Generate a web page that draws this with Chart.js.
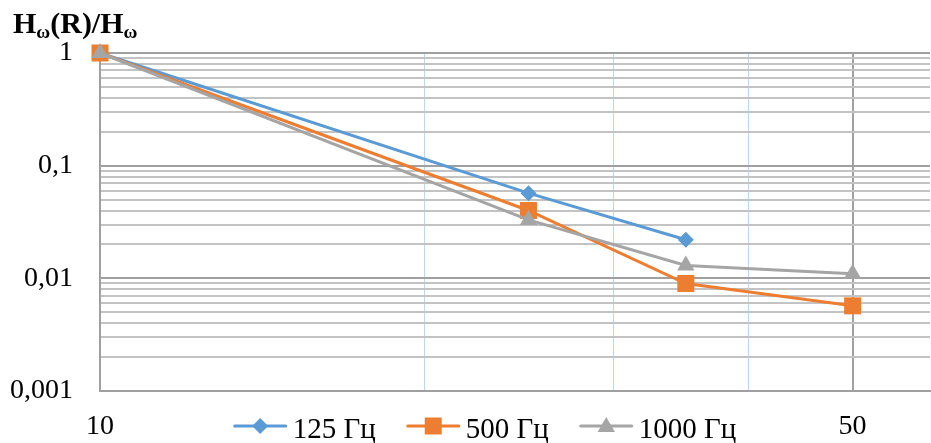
<!DOCTYPE html>
<html><head><meta charset="utf-8">
<script src="https://cdn.jsdelivr.net/npm/chart.js@4"></script>
<style>html,body{margin:0;padding:0;background:#fff;overflow:hidden}canvas{display:block}</style>
</head><body><canvas id="c" width="931" height="443"></canvas>
<script>
// ---- data ----
const distances = [10, 25, 35, 50];
const series125 = [1, 0.057, 0.022];
const series500 = [1, 0.040, 0.0090, 0.0057];
const series1000 = [1, 0.033, 0.013, 0.011];
const seriesNames = ['125 Гц', '500 Гц', '1000 Гц'];
const seriesColors = ['#5b9bd5', '#ed7d31', '#a5a5a5'];
const seriesMarkers = ['rectRot', 'rect', 'triangle'];
const xTickValues = [10, 20, 30, 40, 50];
const xTickLabels = ['10', '', '', '', '50'];
const yDecades = [-3, -2, -1, 0];
const yDecadeLabels = ['0,001', '0,01', '0,1', '1'];
const titleParts = [['H', false], ['ω', true], ['(R)/H', false], ['ω', true]];

// ---- build ticks ----
const yTicks = [];
yDecades.forEach((d, i) => {
  const maxM = d === 0 ? 1 : 9;
  for (let m = 1; m <= maxM; m++) {
    yTicks.push({ value: parseFloat((m * Math.pow(10, d)).toPrecision(6)), label: m === 1 ? yDecadeLabels[i] : '', major: m === 1 });
  }
});
const findY = v => yTicks.find(t => Math.abs(t.value - v) / v < 1e-6);
const yLabelFor = v => { const t = findY(v); return t ? t.label : ''; };
const yMajorFor = v => { const t = findY(v); return t ? t.major : false; };
const xLabelFor = v => { const i = xTickValues.findIndex(t => Math.abs(t - v) < 1e-6); return i >= 0 ? xTickLabels[i] : ''; };
const isX = (v, t) => Math.abs(v - t) < 1e-6;

const toPoints = arr => arr.map((y, i) => ({ x: distances[i], y }));
const allSeries = [series125, series500, series1000];
const radii = [8, 12, 10];

const datasets = allSeries.map((s, i) => ({
  label: seriesNames[i],
  data: toPoints(s),
  borderColor: seriesColors[i],
  backgroundColor: seriesColors[i],
  borderWidth: 3,
  pointStyle: seriesMarkers[i],
  pointRadius: radii[i],
  pointHoverRadius: radii[i],
  pointBorderWidth: 0,
  order: 2 - i,
  clip: false,
  tension: 0
}));

const serif = '"Liberation Serif", "Times New Roman", serif';
const PLOT_RIGHT = 930;

function drawMarker(ctx, style, x, y, r, color) {
  ctx.save();
  ctx.fillStyle = color;
  ctx.beginPath();
  if (style === 'rectRot') {
    ctx.moveTo(x - r, y); ctx.lineTo(x, y - r); ctx.lineTo(x + r, y); ctx.lineTo(x, y + r);
  } else if (style === 'rect') {
    const s = r * Math.SQRT1_2;
    ctx.rect(x - s, y - s, 2 * s, 2 * s);
  } else {
    let a = 0;
    ctx.moveTo(x + Math.sin(a) * r, y - Math.cos(a) * r);
    a += 2 * Math.PI / 3; ctx.lineTo(x + Math.sin(a) * r, y - Math.cos(a) * r);
    a += 2 * Math.PI / 3; ctx.lineTo(x + Math.sin(a) * r, y - Math.cos(a) * r);
  }
  ctx.closePath();
  ctx.fill();
  ctx.restore();
}

const layoutFix = {
  id: 'layoutFix',
  afterLayout(chart) {
    const ca = chart.chartArea;
    ca.right = PLOT_RIGHT;
    ca.width = ca.right - ca.left;
    const xs = chart.scales.x;
    xs.right = PLOT_RIGHT;
    xs.width = xs.right - xs.left;
    xs.configure();
    chart.scales.y.configure();
  }
};

const decorPlugin = {
  id: 'decor',
  afterDraw(chart) {
    const ctx = chart.ctx;
    ctx.save();
    // title
    let x = 13;
    ctx.fillStyle = '#000';
    ctx.textBaseline = 'alphabetic';
    titleParts.forEach(([t, sub]) => {
      ctx.font = 'bold ' + (sub ? 19 : 30) + 'px ' + serif;
      ctx.fillText(t, x, sub ? 38 : 33);
      x += ctx.measureText(t).width;
    });
    // legend
    ctx.font = '29px ' + serif;
    const sample = 53, gapT = 6, gapItem = 31;
    const widths = seriesNames.map(n => ctx.measureText(n).width);
    const total = widths.reduce((a, w) => a + sample + gapT + w, 0) + gapItem * (seriesNames.length - 1);
    let lx = 485 - total / 2;
    const ly = 426;
    seriesNames.forEach((n, i) => {
      ctx.strokeStyle = seriesColors[i];
      ctx.lineWidth = 3;
      ctx.lineCap = 'round';
      ctx.beginPath(); ctx.moveTo(lx + 1, ly); ctx.lineTo(lx + sample - 1, ly); ctx.stroke();
      drawMarker(ctx, seriesMarkers[i], lx + sample / 2, seriesMarkers[i] === 'triangle' ? ly + 1 : ly, radii[i], seriesColors[i]);
      ctx.fillStyle = '#000';
      ctx.fillText(n, lx + sample + gapT, 438);
      lx += sample + gapT + widths[i] + gapItem;
    });
    ctx.restore();
  }
};

new Chart(document.getElementById('c'), {
  type: 'line',
  data: { datasets },
  options: {
    responsive: false,
    animation: false,
    layout: { padding: { left: 0, right: 1, top: 53, bottom: 0 } },
    plugins: { legend: { display: false }, tooltip: { enabled: false } },
    scales: {
      x: {
        type: 'logarithmic',
        min: 10,
        max: 59,
        afterBuildTicks: s => { s.ticks = xTickValues.map(v => ({ value: v })); },
        afterFit: s => { s.height = 52; s.paddingRight = 0; s.paddingLeft = 0; },
        ticks: {
          autoSkip: false, maxRotation: 0, minRotation: 0,
          padding: 19,
          color: '#000',
          font: { family: serif, size: 28 },
          callback: v => xLabelFor(v)
        },
        grid: {
          drawTicks: false,
          color: c => (c.tick && (isX(c.tick.value, 50) || isX(c.tick.value, 10))) ? '#a0a0a0' : '#bdd7ee',
          lineWidth: c => (c.tick && (isX(c.tick.value, 50) || isX(c.tick.value, 10))) ? 2 : 1
        },
        border: { color: '#a0a0a0', width: 2 }
      },
      y: {
        type: 'logarithmic',
        min: 0.001,
        max: 1,
        afterBuildTicks: s => { s.ticks = yTicks.map(t => ({ value: t.value, major: t.major })); },
        afterFit: s => { s.width = 100; s.paddingTop = 0; s.paddingBottom = 0; },
        ticks: {
          autoSkip: false,
          padding: 27,
          color: '#000',
          font: { family: serif, size: 28 },
          callback: v => yLabelFor(v)
        },
        grid: {
          drawTicks: false,
          color: c => (c.tick && yMajorFor(c.tick.value)) ? '#a0a0a0' : '#c3c3c3',
          lineWidth: 2
        },
        border: { color: '#a0a0a0', width: 2 }
      }
    }
  },
  plugins: [layoutFix, decorPlugin]
});
</script>
</body></html>
